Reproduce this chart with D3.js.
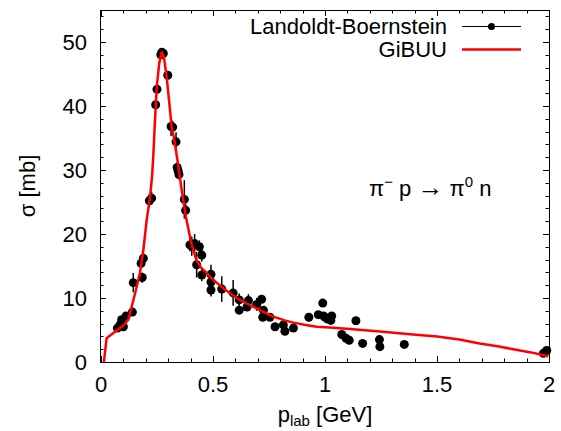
<!DOCTYPE html>
<html>
<head>
<meta charset="utf-8">
<script src="https://cdn.jsdelivr.net/npm/d3@7"></script>
<style>
body { margin: 0; background: #fff; }
text { font-family: "Liberation Sans", Arial, sans-serif; fill: #000; }
</style>
</head>
<body>
<div id="chart"></div>
<script>
// measured points (p_lab GeV, sigma mb, error mb)
var pLab = [0.073, 0.085, 0.092, 0.10, 0.112, 0.14, 0.144, 0.179, 0.184, 0.189,
    0.216, 0.226, 0.244, 0.25, 0.267, 0.272, 0.278, 0.298, 0.313, 0.32,
    0.335, 0.34, 0.344, 0.348, 0.372, 0.378, 0.397, 0.405, 0.418, 0.427,
    0.439, 0.45, 0.45, 0.491, 0.491, 0.491, 0.539, 0.59, 0.617, 0.617,
    0.658, 0.652, 0.695, 0.717, 0.725, 0.722, 0.754, 0.777, 0.814, 0.821,
    0.859, 0.928, 0.97, 0.99, 0.993, 1.0, 1.012, 1.03, 1.026, 1.075,
    1.094, 1.108, 1.138, 1.168, 1.243, 1.245, 1.354, 1.975, 1.99];
var sigma = [5.3, 5.8, 6.6, 5.5, 7.2, 7.8, 12.4, 15.4, 13.2, 16.2,
    25.2, 25.6, 40.2, 42.6, 48.0, 48.4, 48.2, 44.8, 36.8, 36.7,
    34.4, 30.4, 29.9, 29.3, 25.4, 23.7, 18.3, 18.1, 18.5, 15.2,
    18.0, 16.7, 13.6, 13.7, 12.5, 11.25, 11.4, 10.8, 9.7, 8.1,
    9.6, 8.6, 9.0, 9.8, 8.1, 7.0, 7.0, 5.5, 5.8, 4.8,
    5.3, 7.0, 7.4, 9.2, 7.2, 7.0, 6.7, 7.2, 6.5, 4.3,
    3.7, 3.4, 6.45, 2.9, 3.5, 2.4, 2.75, 1.35, 1.8];
var sigmaErr = [0.5, 0.5, 0.5, 0.5, 0.5, 0.5, 1.5, 0.8, 0.8, 0.8,
    1.0, 1.0, 0.5, 0.5, 0.5, 0.5, 0.5, 0.5, 1.5, 1.0,
    1.5, 0.8, 0.8, 0.8, 3.0, 1.0, 1.0, 1.5, 1.5, 2.0,
    1.0, 1.0, 1.0, 1.5, 1.5, 1.0, 2.0, 2.0, 1.0, 0.5,
    1.0, 0.5, 1.0, 0.5, 0.5, 0.5, 0.5, 0.5, 0.5, 0.5,
    0.5, 0.3, 0.3, 0.3, 0.3, 0.3, 0.3, 0.3, 0.3, 0.3,
    0.3, 0.3, 0.3, 0.3, 0.3, 0.3, 0.3, 0.3, 0.3];

// GiBUU curve
var gibuuP = [0.013, 0.025, 0.077, 0.1, 0.122, 0.152, 0.174, 0.189, 0.204, 0.219,
    0.228, 0.234, 0.241, 0.249, 0.26, 0.271, 0.281, 0.293, 0.308, 0.316,
    0.326, 0.341, 0.36, 0.379, 0.397, 0.405, 0.427, 0.45, 0.464, 0.49,
    0.516, 0.55, 0.59, 0.63, 0.665, 0.72, 0.769, 0.82, 0.859, 0.92,
    0.963, 1.02, 1.112, 1.246, 1.38, 1.5, 1.6, 1.69, 1.77, 1.84, 1.92, 1.997];
var gibuuSigma = [0, 3.7, 5.1, 5.7, 6.6, 10.7, 13.9, 17.5, 22.2, 25.8,
    29.0, 32.6, 37.8, 43.0, 46.7, 48.4, 47.6, 44.6, 39.4, 36.5,
    35.0, 31.6, 26.9, 22.7, 19.6, 18.3, 15.8, 14.6, 14.2, 13.2,
    12.4, 11.4, 10.4, 9.5, 8.9, 7.9, 7.1, 6.5, 6.15, 5.75,
    5.5, 5.4, 5.15, 4.75, 4.35, 4.0, 3.5, 2.9, 2.45, 2.0, 1.5, 0.9];

var xTicks = [0, 0.5, 1, 1.5, 2];
var xTickLabels = ["0", "0.5", "1", "1.5", "2"];
var yTicks = [0, 10, 20, 30, 40, 50];

var W = 561, H = 431;
var pl = 100, pr = 549, pt = 10, pb = 362;
var fs = "22px";

var svg = d3.select("#chart").append("svg")
    .attr("width", W)
    .attr("height", H);

var x = d3.scaleLinear().domain([0, 2]).range([101, pr]);
var y = d3.scaleLinear().domain([0, 55]).range([pb, pt]);

// ticks on all four sides, pointing inward
var ticks = svg.append("g").attr("stroke", "#000").attr("stroke-width", 1);
d3.range(0, 2.001, 0.1).forEach(function(v){
    var major = Math.abs(v * 2 - Math.round(v * 2)) < 1e-6;
    var len = major ? 6 : 3.5;
    var px = Math.round(x(v)) + 0.5;
    ticks.append("line").attr("x1", px).attr("x2", px).attr("y1", pb).attr("y2", pb - len);
    ticks.append("line").attr("x1", px).attr("x2", px).attr("y1", pt).attr("y2", pt + len);
});
d3.range(0, 55.001, 2).forEach(function(v){
    var major = v % 10 === 0;
    var len = major ? 6 : 3.5;
    var py = Math.round(y(v)) + 0.5;
    ticks.append("line").attr("x1", pl).attr("x2", pl + len).attr("y1", py).attr("y2", py);
    ticks.append("line").attr("x1", pr).attr("x2", pr - len).attr("y1", py).attr("y2", py);
});

svg.append("rect")
    .attr("x", pl + 0.5).attr("y", pt + 0.5)
    .attr("width", pr - pl).attr("height", pb - pt)
    .attr("fill", "none").attr("stroke", "#000").attr("stroke-width", 1);

// tick labels
svg.selectAll(".xl").data(xTicks).enter().append("text")
    .attr("x", function(d){ return x(d); })
    .attr("y", 392)
    .attr("text-anchor", "middle")
    .attr("font-size", fs)
    .text(function(d, i){ return xTickLabels[i]; });

svg.selectAll(".yl").data(yTicks).enter().append("text")
    .attr("x", 87)
    .attr("y", function(d){ return y(d) + 8; })
    .attr("text-anchor", "end")
    .attr("font-size", fs)
    .text(function(d){ return d; });

// axis titles
svg.append("text")
    .attr("transform", "translate(35,186) rotate(-90)")
    .attr("text-anchor", "middle")
    .attr("font-size", fs)
    .text("σ [mb]");

var xt = svg.append("text")
    .attr("x", 325)
    .attr("y", 422)
    .attr("text-anchor", "middle")
    .attr("font-size", fs);
xt.append("tspan").text("p");
xt.append("tspan").attr("font-size", "15px").attr("dy", 4).text("lab");
xt.append("tspan").attr("dy", -4).text(" [GeV]");

// data
var pts = pLab.map(function(p, i){ return {p: p, s: sigma[i], e: sigmaErr[i]}; });

svg.append("g").selectAll("line").data(pts).enter().append("line")
    .attr("x1", function(d){ return x(d.p); })
    .attr("x2", function(d){ return x(d.p); })
    .attr("y1", function(d){ return y(d.s - d.e); })
    .attr("y2", function(d){ return y(d.s + d.e); })
    .attr("stroke", "#000").attr("stroke-width", 1.5);

svg.append("g").selectAll("circle").data(pts).enter().append("circle")
    .attr("cx", function(d){ return x(d.p); })
    .attr("cy", function(d){ return y(d.s); })
    .attr("r", 4.5)
    .attr("fill", "#000");

var line = d3.line()
    .x(function(d){ return x(d[0]); })
    .y(function(d){ return y(d[1]); });

svg.append("path")
    .datum(gibuuP.map(function(p, i){ return [p, gibuuSigma[i]]; }))
    .attr("d", line)
    .attr("fill", "none")
    .attr("stroke", "#ff0000")
    .attr("stroke-width", 2.5)
    .attr("stroke-linejoin", "round");

// legend
svg.append("text").attr("x", 447).attr("y", 34).attr("text-anchor", "end")
    .attr("font-size", fs).text("Landoldt-Boernstein");
svg.append("line").attr("x1", 462).attr("x2", 521).attr("y1", 26.5).attr("y2", 26.5)
    .attr("stroke", "#000").attr("stroke-width", 1);
svg.append("circle").attr("cx", 491.5).attr("cy", 26.5).attr("r", 3.5).attr("fill", "#000");

svg.append("text").attr("x", 447).attr("y", 56.5).attr("text-anchor", "end")
    .attr("font-size", fs).text("GiBUU");
svg.append("line").attr("x1", 462).attr("x2", 521).attr("y1", 49.5).attr("y2", 49.5)
    .attr("stroke", "#ff0000").attr("stroke-width", 2.5);

// reaction label
var rx = svg.append("text").attr("x", 369).attr("y", 196).attr("font-size", fs);
rx.append("tspan").text("π");
rx.append("tspan").attr("font-size", "15px").attr("dy", -9).text("−");
rx.append("tspan").attr("dy", 9).text(" p ");
rx.append("tspan").attr("font-size", "26px").text("→");
rx.append("tspan").text("  π");
rx.append("tspan").attr("font-size", "15px").attr("dy", -9).text("0");
rx.append("tspan").attr("dy", 9).text(" n");
</script>
</body>
</html>
